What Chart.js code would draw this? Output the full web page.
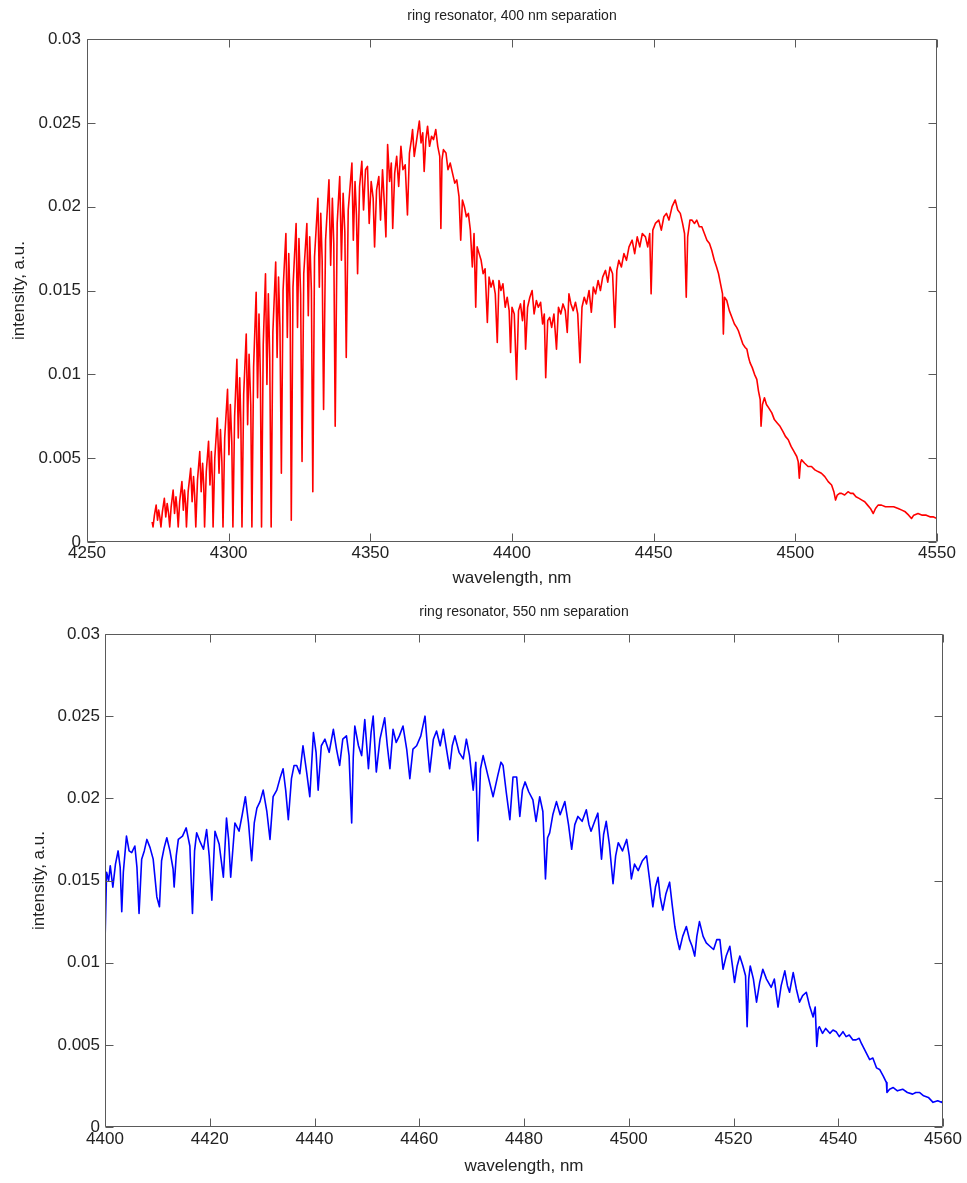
<!DOCTYPE html>
<html>
<head>
<meta charset="utf-8">
<title>Ring resonator spectra</title>
<script src="https://cdn.jsdelivr.net/npm/chart.js@4/dist/chart.umd.min.js"></script>
<style>
  html, body { margin: 0; padding: 0; background: #ffffff; }
  canvas { display: block; }
</style>
</head>
<body>
<canvas id="topChart" width="967" height="592"></canvas>
<canvas id="bottomChart" width="967" height="591"></canvas>
<script>
// ---- 400 nm separation spectrum (wavelength in nm, intensity in a.u.) ----
const topWavelength = [
  4273.0, 4273.3, 4273.8, 4274.4, 4274.9, 4275.3, 4275.7, 4276.1,
  4276.6, 4277.3, 4277.8, 4278.3, 4278.8, 4279.2,
  4279.7, 4280.4, 4280.9, 4281.4, 4281.8, 4282.2,
  4282.7, 4283.5, 4284.0, 4284.4, 4284.8, 4285.1,
  4285.7, 4286.6, 4287.1, 4287.6, 4288.0, 4288.4,
  4289.0, 4289.8, 4290.3, 4290.8, 4291.2, 4291.5,
  4292.1, 4292.9, 4293.4, 4293.9, 4294.2, 4294.5,
  4295.1, 4296.0, 4296.6, 4297.1, 4297.6, 4298.0,
  4298.6, 4299.6, 4300.1, 4300.6, 4301.1, 4301.5,
  4302.1, 4302.9, 4303.4, 4303.9, 4304.3, 4304.7,
  4305.3, 4306.2, 4306.7, 4307.2, 4307.8, 4308.2,
  4308.8, 4309.7, 4310.2, 4310.7, 4311.2, 4311.6,
  4312.2, 4313.0, 4313.5, 4314.0, 4314.5, 4315.0,
  4315.6, 4316.6, 4317.1, 4317.6, 4318.1, 4318.6,
  4319.2, 4320.2, 4320.7, 4321.2, 4321.7, 4322.1,
  4322.7, 4323.8, 4324.3, 4324.8, 4325.4, 4325.9,
  4326.5, 4327.6, 4328.1, 4328.6, 4329.2, 4329.7,
  4330.3, 4331.5, 4332.0, 4332.5, 4333.0, 4333.5,
  4334.2, 4335.4, 4336.0, 4336.6, 4337.1, 4337.6,
  4338.3, 4339.2, 4339.8, 4340.4, 4341.0, 4341.5,
  4342.2, 4343.5, 4344.0, 4344.6, 4345.1, 4345.5,
  4346.2, 4347.0, 4347.6, 4348.3, 4349.0, 4349.6, 4350.3, 4351.0,
  4351.5, 4352.2, 4353.0, 4353.6, 4354.3, 4355.0, 4355.5, 4356.1,
  4356.8, 4357.4, 4357.9, 4358.6, 4359.3, 4360.0, 4360.8, 4361.5,
  4362.3, 4363.1, 4363.8, 4364.5, 4364.9, 4365.5, 4366.2, 4367.3,
  4367.9, 4368.5, 4369.0, 4369.6, 4370.2, 4370.9, 4371.6, 4372.3,
  4373.1, 4373.8, 4374.5, 4374.9, 4375.3, 4375.8, 4376.7, 4377.4,
  4378.2, 4379.0, 4379.8, 4380.5, 4381.3, 4381.9, 4382.5, 4383.2,
  4383.9, 4384.6, 4385.3, 4386.0, 4386.6, 4387.2, 4387.7, 4388.4,
  4389.1, 4389.8, 4390.5, 4391.3, 4391.9, 4392.6, 4393.3, 4394.1,
  4394.8, 4395.4, 4396.1, 4396.8, 4397.6, 4398.3, 4399.0, 4399.5,
  4400.0, 4400.8, 4401.6, 4402.3, 4403.0, 4403.7, 4404.3, 4404.8,
  4405.5, 4406.3, 4407.1, 4407.8, 4408.6, 4409.3, 4410.1, 4410.8,
  4411.4, 4411.9, 4412.6, 4413.3, 4414.0, 4414.8, 4415.7, 4416.4,
  4417.2, 4418.0, 4418.8, 4419.5, 4420.1, 4420.8, 4421.6, 4422.4,
  4423.2, 4424.0, 4424.7, 4425.5, 4426.3, 4427.2, 4428.0, 4428.7,
  4429.5, 4430.4, 4431.2, 4432.0, 4433.0, 4433.8, 4434.6, 4435.5,
  4436.3, 4437.0, 4437.7, 4438.6, 4439.5, 4440.4, 4441.3, 4442.4,
  4443.3, 4444.2, 4445.1, 4446.0, 4447.1, 4447.9, 4448.6, 4449.1,
  4449.7, 4450.6, 4451.8, 4452.7, 4453.6, 4454.5, 4455.4, 4456.5,
  4457.6, 4458.5, 4459.4, 4460.2, 4460.9, 4461.5, 4462.0, 4462.8,
  4463.5, 4464.4, 4465.2, 4466.1, 4467.0, 4467.9, 4468.8, 4469.7,
  4470.5, 4471.4, 4472.2, 4472.9, 4473.6, 4474.3, 4474.6, 4475.0,
  4475.8, 4476.7, 4477.6, 4478.5, 4479.3, 4479.9, 4480.7, 4481.5,
  4482.3, 4482.9, 4483.5, 4484.0, 4484.8, 4485.6, 4486.4, 4487.0,
  4487.6, 4487.9, 4488.4, 4489.1, 4489.8, 4490.6, 4491.7, 4492.6,
  4493.6, 4494.6, 4495.6, 4496.5, 4497.5, 4498.5, 4499.5, 4500.5,
  4501.0, 4501.4, 4501.8, 4502.2, 4503.3, 4504.5, 4505.7, 4506.9,
  4508.0, 4509.2, 4510.4, 4511.6, 4512.8, 4513.6, 4514.2, 4514.8,
  4515.6, 4516.3, 4517.4, 4518.6, 4519.5, 4520.4, 4521.4, 4522.5,
  4523.5, 4524.5, 4525.5, 4526.5, 4527.5, 4528.3, 4529.2, 4530.4,
  4531.8, 4533.2, 4534.7, 4536.3, 4537.6, 4538.8, 4540.0, 4541.0,
  4541.8, 4543.3, 4544.8, 4546.2, 4547.5, 4548.6, 4550.0
];
const topIntensity = [
  0.0012, 0.0009, 0.0016, 0.0022, 0.0013, 0.0019, 0.0015, 0.0009,
  0.0018, 0.0026, 0.0015, 0.0023, 0.0017, 0.0009,
  0.0021, 0.0031, 0.0017, 0.0027, 0.0020, 0.0009,
  0.0024, 0.0036, 0.0019, 0.0031, 0.0023, 0.0009,
  0.0030, 0.0044, 0.0024, 0.0039, 0.0028, 0.0009,
  0.0037, 0.0054, 0.0030, 0.0047, 0.0034, 0.0009,
  0.0042, 0.0060, 0.0034, 0.0054, 0.0040, 0.0009,
  0.0050, 0.0074, 0.0041, 0.0067, 0.0048, 0.0009,
  0.0062, 0.0091, 0.0052, 0.0082, 0.0060, 0.0009,
  0.0075, 0.0109, 0.0062, 0.0098, 0.0072, 0.0009,
  0.0088, 0.0124, 0.0070, 0.0112, 0.0082, 0.0009,
  0.0104, 0.0149, 0.0086, 0.0136, 0.0098, 0.0009,
  0.0118, 0.0160, 0.0094, 0.0148, 0.0110, 0.0009,
  0.0125, 0.0167, 0.0110, 0.0158, 0.0128, 0.0041,
  0.0150, 0.0184, 0.0122, 0.0172, 0.0140, 0.0013,
  0.0152, 0.0190, 0.0128, 0.0181, 0.0148, 0.0048,
  0.0160, 0.0190, 0.0135, 0.0182, 0.0150, 0.0030,
  0.0170, 0.0205, 0.0152, 0.0196, 0.0168, 0.0079,
  0.0180, 0.0216, 0.0165, 0.0205, 0.0178, 0.0069,
  0.0190, 0.0218, 0.0168, 0.0208, 0.0185, 0.0110,
  0.0198, 0.0226, 0.0180, 0.0215, 0.0195, 0.0160,
  0.0212, 0.0227, 0.0198, 0.0222, 0.0224, 0.0190, 0.0215, 0.0205,
  0.0176, 0.0210, 0.0218, 0.0192, 0.0222, 0.0200, 0.0182, 0.0237,
  0.0215, 0.0226, 0.0187, 0.0220, 0.0230, 0.0212, 0.0236, 0.0222,
  0.0225, 0.0195, 0.0232, 0.0240, 0.0246, 0.0230, 0.0238, 0.0251,
  0.0238, 0.0244, 0.0221, 0.0240, 0.0248, 0.0236, 0.0242, 0.0240,
  0.0246, 0.0236, 0.0230, 0.0187, 0.0228, 0.0234, 0.0232, 0.0222,
  0.0226, 0.0220, 0.0214, 0.0216, 0.0206, 0.0180, 0.0204, 0.0200,
  0.0194, 0.0196, 0.0186, 0.0164, 0.0184, 0.0140, 0.0176, 0.0172,
  0.0168, 0.0160, 0.0163, 0.0131, 0.0158, 0.0152, 0.0156, 0.0148,
  0.0119, 0.0156, 0.0150, 0.0154, 0.0140, 0.0146, 0.0138, 0.0113,
  0.0140, 0.0136, 0.0097, 0.0138, 0.0142, 0.0132, 0.0144, 0.0115,
  0.0140, 0.0146, 0.0150, 0.0136, 0.0144, 0.0140, 0.0143, 0.0130,
  0.0136, 0.0098, 0.0132, 0.0134, 0.0128, 0.0136, 0.0115, 0.0140,
  0.0136, 0.0142, 0.0138, 0.0125, 0.0148, 0.0142, 0.0138, 0.0143,
  0.0136, 0.0107, 0.0140, 0.0146, 0.0142, 0.0150, 0.0137, 0.0152,
  0.0148, 0.0156, 0.0150, 0.0158, 0.0162, 0.0155, 0.0164, 0.0160,
  0.0128, 0.0162, 0.0168, 0.0164, 0.0172, 0.0168, 0.0176, 0.0180,
  0.0172, 0.0182, 0.0176, 0.0184, 0.0182, 0.0176, 0.0184, 0.0148,
  0.0186, 0.0190, 0.0192, 0.0186, 0.0194, 0.0196, 0.0192, 0.0200,
  0.0204, 0.0198, 0.0196, 0.0190, 0.0184, 0.0146, 0.0182, 0.0192,
  0.0192, 0.0190, 0.0192, 0.0188, 0.0188, 0.0184, 0.0180, 0.0178,
  0.0174, 0.0168, 0.0164, 0.0160, 0.0154, 0.0148, 0.0124, 0.0146,
  0.0144, 0.0138, 0.0134, 0.0130, 0.0128, 0.0126, 0.0122, 0.0118,
  0.0116, 0.0115, 0.0110, 0.0107, 0.0104, 0.0100, 0.0097, 0.0090,
  0.0085, 0.0069, 0.0082, 0.0086, 0.0082, 0.0080, 0.0077, 0.0073,
  0.0071, 0.0069, 0.0066, 0.0063, 0.0061, 0.0057, 0.0054, 0.0051,
  0.0048, 0.0038, 0.0047, 0.0049, 0.0047, 0.0045, 0.0045, 0.0043,
  0.0042, 0.0041, 0.0039, 0.0036, 0.0034, 0.0030, 0.0025, 0.0028,
  0.0029, 0.0029, 0.0028, 0.0030, 0.0029, 0.0029, 0.0027, 0.0026,
  0.0025, 0.0024, 0.0022, 0.0020, 0.0017, 0.0020, 0.0022, 0.0022,
  0.0021, 0.0021, 0.0021, 0.0020, 0.0019, 0.0018, 0.0016, 0.0014,
  0.0016, 0.0017, 0.0016, 0.0016, 0.0015, 0.0015, 0.0014
];

// ---- 550 nm separation spectrum ----
const bottomWavelength = [
  4400.0, 4400.3, 4400.7, 4401.0, 4401.5, 4402.0, 4402.5, 4402.9,
  4403.2, 4403.5, 4404.1, 4404.6, 4405.1, 4405.7, 4406.1, 4406.5,
  4407.0, 4407.5, 4408.0, 4408.6, 4409.2, 4409.9, 4410.4, 4410.8,
  4411.3, 4411.8, 4412.4, 4413.0, 4413.2, 4413.6, 4414.0, 4414.8,
  4415.5, 4416.2, 4416.7, 4417.1, 4417.5, 4418.1, 4418.8, 4419.4,
  4419.9, 4420.4, 4421.0, 4421.8, 4422.6, 4423.2, 4423.6, 4424.0,
  4424.8, 4425.6, 4426.2, 4426.8, 4427.4, 4428.0, 4428.5, 4429.0,
  4429.6, 4430.2, 4430.9, 4431.5, 4432.1, 4432.8, 4433.4, 4434.0,
  4434.5, 4435.0, 4435.6, 4436.1, 4436.6, 4437.2, 4437.8, 4438.5,
  4439.1, 4439.8, 4440.3, 4440.7, 4441.3, 4442.0, 4442.8, 4443.6,
  4444.2, 4444.8, 4445.4, 4446.1, 4446.6, 4447.1, 4447.4, 4447.7,
  4448.4, 4449.0, 4449.6, 4450.3, 4450.8, 4451.2, 4451.8, 4452.5,
  4453.4, 4453.9, 4454.4, 4455.0, 4455.6, 4456.2, 4456.9, 4457.6,
  4458.2, 4458.8, 4459.5, 4460.3, 4461.1, 4461.6, 4462.0, 4462.7,
  4463.3, 4464.0, 4464.6, 4465.2, 4465.8, 4466.3, 4466.8, 4467.6,
  4468.4, 4469.0, 4469.6, 4470.3, 4470.8, 4471.2, 4471.7, 4472.2,
  4473.1, 4474.1, 4475.0, 4475.6, 4476.0, 4476.6, 4477.3, 4477.9,
  4478.6, 4479.2, 4479.7, 4480.2, 4480.9, 4481.7, 4482.3, 4483.0,
  4483.6, 4484.1, 4484.5, 4484.9, 4485.5, 4486.2, 4486.9, 4487.8,
  4488.5, 4489.1, 4489.7, 4490.3, 4491.1, 4491.9, 4492.4, 4492.8,
  4493.5, 4494.1, 4494.8, 4495.2, 4495.7, 4496.3, 4497.0, 4497.5,
  4498.0, 4498.8, 4499.6, 4500.1, 4500.5, 4501.1, 4501.8, 4502.6,
  4503.4, 4504.0, 4504.6, 4505.1, 4505.6, 4506.0, 4506.5, 4507.1,
  4507.8, 4508.3, 4508.8, 4509.2, 4509.7, 4510.3, 4511.0, 4511.6,
  4512.1, 4512.6, 4513.0, 4513.5, 4514.2, 4514.8, 4515.5, 4516.2,
  4516.8, 4517.4, 4518.0, 4518.6, 4519.3, 4519.8, 4520.2, 4520.7,
  4521.2, 4521.8, 4522.3, 4522.6, 4522.9, 4523.2, 4523.8, 4524.4,
  4525.0, 4525.6, 4526.3, 4527.2, 4527.8, 4528.5, 4529.1, 4529.8,
  4530.3, 4530.7, 4531.4, 4532.0, 4532.6, 4533.2, 4533.9, 4534.5,
  4535.2, 4535.6, 4535.9, 4536.2, 4536.4, 4537.0, 4537.6, 4538.4,
  4539.0, 4539.6, 4540.2, 4540.9, 4541.5, 4542.1, 4542.8, 4543.4,
  4544.0, 4544.4, 4545.2, 4546.0, 4546.6, 4547.3, 4547.9, 4548.6,
  4549.2, 4549.3, 4549.8, 4550.5, 4551.3, 4552.3, 4553.2, 4554.2,
  4554.8, 4555.5, 4556.3, 4557.2, 4558.1, 4559.0, 4559.7, 4560.0
];
const bottomIntensity = [
  0.0112, 0.0155, 0.0150, 0.0159, 0.0146, 0.0160, 0.0168, 0.0158,
  0.0131, 0.0155, 0.0177, 0.0168, 0.0167, 0.0171, 0.0158, 0.0130,
  0.0163, 0.0168, 0.0175, 0.0170, 0.0163, 0.0140, 0.0134, 0.0162,
  0.0170, 0.0176, 0.0168, 0.0157, 0.0146, 0.0165, 0.0175, 0.0177,
  0.0182, 0.0171, 0.0130, 0.0168, 0.0179, 0.0174, 0.0169, 0.0181,
  0.0165, 0.0138, 0.0180, 0.0172, 0.0152, 0.0188, 0.0175, 0.0152,
  0.0185, 0.0180, 0.0190, 0.0201, 0.0185, 0.0162, 0.0185, 0.0194,
  0.0198, 0.0205, 0.0192, 0.0175, 0.0201, 0.0205, 0.0212, 0.0218,
  0.0205, 0.0187, 0.0212, 0.0220, 0.0220, 0.0215, 0.0232, 0.0216,
  0.0201, 0.0240, 0.0228, 0.0205, 0.0232, 0.0236, 0.0228, 0.0242,
  0.0230, 0.0220, 0.0236, 0.0238, 0.0226, 0.0185, 0.0225, 0.0244,
  0.0232, 0.0226, 0.0248, 0.0218, 0.0240, 0.0250, 0.0216, 0.0236,
  0.0249, 0.0232, 0.0218, 0.0242, 0.0234, 0.0238, 0.0244, 0.0230,
  0.0212, 0.0230, 0.0232, 0.0238, 0.0250, 0.0230, 0.0216, 0.0236,
  0.0241, 0.0232, 0.0242, 0.0230, 0.0218, 0.0232, 0.0238, 0.0228,
  0.0224, 0.0236, 0.0226, 0.0205, 0.0222, 0.0174, 0.0218, 0.0226,
  0.0214, 0.0201, 0.0214, 0.0222, 0.0220, 0.0204, 0.0187, 0.0213,
  0.0213, 0.0189, 0.0205, 0.0210, 0.0204, 0.0199, 0.0186, 0.0201,
  0.0192, 0.0151, 0.0176, 0.0179, 0.0190, 0.0198, 0.0190, 0.0198,
  0.0184, 0.0169, 0.0184, 0.0189, 0.0186, 0.0193, 0.0184, 0.0180,
  0.0186, 0.0191, 0.0163, 0.0178, 0.0186, 0.0172, 0.0148, 0.0165,
  0.0173, 0.0168, 0.0175, 0.0165, 0.0151, 0.0160, 0.0156, 0.0162,
  0.0165, 0.0150, 0.0134, 0.0146, 0.0152, 0.0140, 0.0132, 0.0142,
  0.0149, 0.0135, 0.0122, 0.0115, 0.0108, 0.0116, 0.0122, 0.0114,
  0.0110, 0.0104, 0.0116, 0.0125, 0.0116, 0.0112, 0.0110, 0.0108,
  0.0114, 0.0114, 0.0096, 0.0104, 0.0110, 0.0098, 0.0088, 0.0098,
  0.0104, 0.0098, 0.0092, 0.0061, 0.0090, 0.0098, 0.0090, 0.0076,
  0.0088, 0.0096, 0.0090, 0.0085, 0.0090, 0.0073, 0.0086, 0.0095,
  0.0086, 0.0082, 0.0094, 0.0084, 0.0076, 0.0080, 0.0082, 0.0074,
  0.0067, 0.0073, 0.0049, 0.0060, 0.0061, 0.0057, 0.0060, 0.0057,
  0.0059, 0.0058, 0.0055, 0.0058, 0.0055, 0.0056, 0.0053, 0.0053,
  0.0054, 0.0051, 0.0046, 0.0041, 0.0042, 0.0036, 0.0035, 0.0031,
  0.0027, 0.0021, 0.0023, 0.0024, 0.0022, 0.0023, 0.0021, 0.0020,
  0.0021, 0.0021, 0.0019, 0.0018, 0.0015, 0.0016, 0.0015, 0.0016
];

// ---- axis ticks and text ----
const topXTicks = [4250, 4300, 4350, 4400, 4450, 4500, 4550];
const bottomXTicks = [4400, 4420, 4440, 4460, 4480, 4500, 4520, 4540, 4560];
const yTicks = [0, 0.005, 0.01, 0.015, 0.02, 0.025, 0.03];
const yTickLabels = ['0', '0.005', '0.01', '0.015', '0.02', '0.025', '0.03'];
const topTitle = 'ring resonator, 400 nm separation';
const bottomTitle = 'ring resonator, 550 nm separation';
const xAxisTitle = 'wavelength, nm';
const yAxisTitle = 'intensity, a.u.';

Chart.defaults.font.family = '"Liberation Sans", Arial, Helvetica, sans-serif';
Chart.defaults.color = '#222222';

// Box around the plot area with inward tick marks on all four sides
const boxedAxes = {
  id: 'boxedAxes',
  afterDatasetsDraw(chart) {
    const { ctx, chartArea: a, scales } = chart;
    const len = 8;
    const L = Math.round(a.left) + 0.5;
    const R = Math.round(a.right) - 0.5;
    const T = Math.round(a.top) + 0.5;
    const B = Math.round(a.bottom) - 0.5;
    ctx.save();
    ctx.strokeStyle = '#5a5a5a';
    ctx.lineWidth = 1;
    ctx.beginPath();
    ctx.rect(L, T, R - L, B - T);
    scales.x.ticks.forEach(t => {
      const px = Math.round(scales.x.getPixelForValue(t.value)) + 0.5;
      ctx.moveTo(px, B); ctx.lineTo(px, B - len);
      ctx.moveTo(px, T); ctx.lineTo(px, T + len);
    });
    scales.y.ticks.forEach(t => {
      const py = Math.round(scales.y.getPixelForValue(t.value)) + 0.5;
      ctx.moveTo(L, py); ctx.lineTo(L + len, py);
      ctx.moveTo(R, py); ctx.lineTo(R - len, py);
    });
    ctx.stroke();
    ctx.restore();
  }
};

function buildSpectrum(canvasId, cfg) {
  const points = cfg.wavelength.map((w, i) => ({ x: w, y: cfg.intensity[i] }));
  return new Chart(document.getElementById(canvasId), {
    type: 'line',
    data: {
      datasets: [{
        data: points,
        borderColor: cfg.color,
        borderWidth: 1.6,
        borderJoinStyle: 'round',
        pointRadius: 0,
        tension: 0,
        fill: false
      }]
    },
    options: {
      responsive: false,
      animation: false,
      devicePixelRatio: 1,
      layout: { padding: { left: 0, right: cfg.rightPad, top: 0, bottom: 0 } },
      plugins: { legend: { display: false }, tooltip: { enabled: false }, title: { display: false } },
      scales: {
        x: {
          type: 'linear',
          position: 'bottom',
          min: cfg.xMin,
          max: cfg.xMax,
          afterBuildTicks: s => { s.ticks = cfg.xTicks.map(v => ({ value: v })); },
          afterFit: s => { s.height = cfg.bottomHeight; },
          grid: { display: false, drawTicks: false },
          border: { display: false },
          ticks: { font: { size: 17 }, padding: cfg.xTickPad, maxRotation: 0, autoSkip: false,
                   callback: v => String(v) },
          title: { display: true, text: xAxisTitle, font: { size: 17 },
                   padding: { top: 0, bottom: cfg.xTitlePad } }
        },
        xTop: {
          type: 'linear',
          position: 'top',
          min: cfg.xMin,
          max: cfg.xMax,
          afterFit: s => { s.height = cfg.topHeight; },
          grid: { display: false, drawTicks: false },
          border: { display: false },
          ticks: { display: false },
          title: { display: true, text: cfg.title, font: { size: 14 },
                   padding: { top: cfg.titlePad, bottom: 0 } }
        },
        y: {
          type: 'linear',
          position: 'left',
          min: 0,
          max: 0.03,
          afterBuildTicks: s => { s.ticks = yTicks.map(v => ({ value: v })); },
          afterFit: s => { s.width = cfg.leftWidth; },
          grid: { display: false, drawTicks: false },
          border: { display: false },
          ticks: { font: { size: 17 }, padding: cfg.yTickPad, autoSkip: false,
                   callback: (v, i) => yTickLabels[i] },
          title: { display: true, text: yAxisTitle, font: { size: 17 },
                   padding: { top: cfg.yTitlePad, bottom: 0 } }
        }
      }
    },
    plugins: [boxedAxes]
  });
}

buildSpectrum('topChart', {
  wavelength: topWavelength, intensity: topIntensity, color: 'rgb(255, 0, 0)',
  xMin: 4250, xMax: 4550, xTicks: topXTicks, title: topTitle,
  leftWidth: 87, rightPad: 30, topHeight: 39, bottomHeight: 50,
  xTickPad: 1, xTitlePad: 3, yTickPad: 6, yTitlePad: 9, titlePad: 8
});

buildSpectrum('bottomChart', {
  wavelength: bottomWavelength, intensity: bottomIntensity, color: 'rgb(0, 0, 255)',
  xMin: 4400, xMax: 4560, xTicks: bottomXTicks, title: bottomTitle,
  leftWidth: 105, rightPad: 24, topHeight: 42, bottomHeight: 56,
  xTickPad: 2, xTitlePad: 6, yTickPad: 5, yTitlePad: 29, titlePad: 12
});
</script>
</body>
</html>
